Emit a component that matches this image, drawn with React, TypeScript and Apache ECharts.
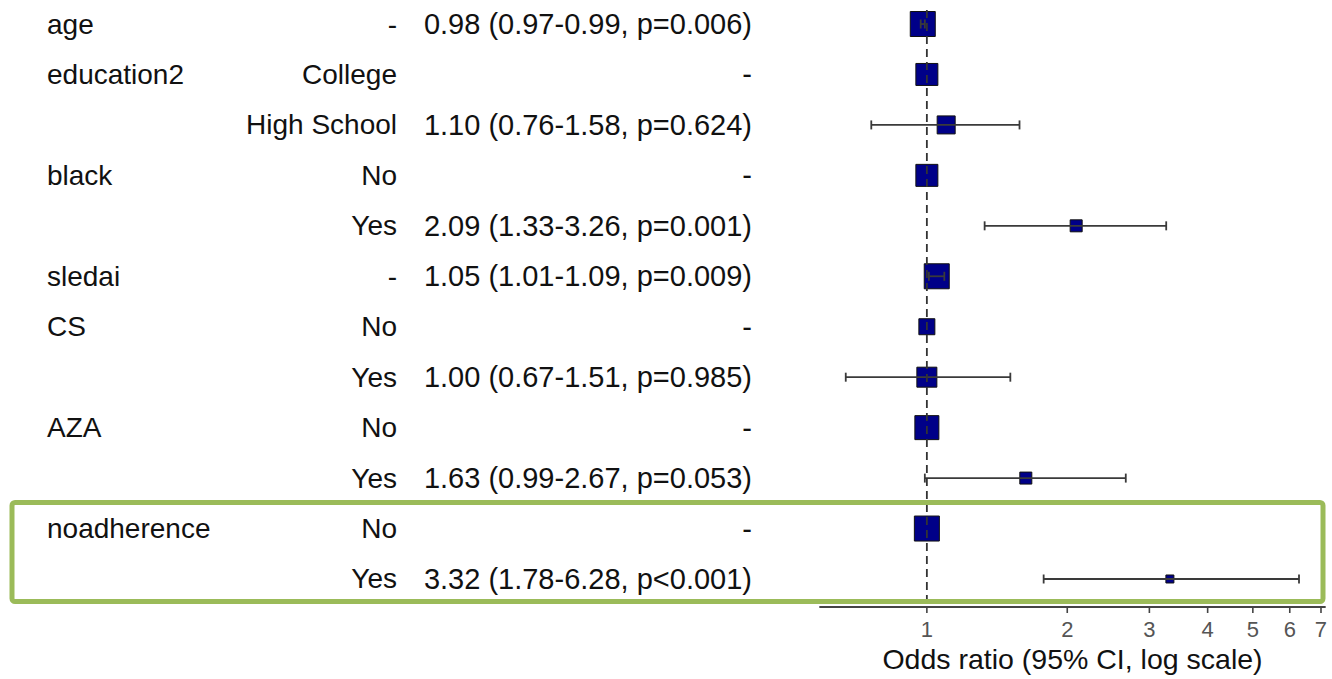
import React, { useEffect, useRef } from 'react';
import * as echarts from 'echarts';

// Multivariable logistic regression results (finalfit-style forest plot)
const variables = ['age', 'education2', '', 'black', '', 'sledai', 'CS', '', 'AZA', '', 'noadherence', ''];
const levels = ['-', 'College', 'High School', 'No', 'Yes', '-', 'No', 'Yes', 'No', 'Yes', 'No', 'Yes'];
// reference levels sit at OR = 1 and carry no interval
const oddsRatio = [0.98, 1, 1.1, 1, 2.09, 1.05, 1, 1.0, 1, 1.63, 1, 3.32];
const ciLow: (number | null)[] = [0.97, null, 0.76, null, 1.33, 1.01, null, 0.67, null, 0.99, null, 1.78];
const ciHigh: (number | null)[] = [0.99, null, 1.58, null, 3.26, 1.09, null, 1.51, null, 2.67, null, 6.28];
const pValue: (string | null)[] = ['0.006', null, '0.624', null, '0.001', '0.009', null, '0.985', null, '0.053', null, '<0.001'];
// relative weight of each estimate (drawn as box side)
const boxWeight = [25, 22, 18, 22, 12, 25, 16, 20, 24, 12, 25, 8];
const tickValues = [1, 2, 3, 4, 5, 6, 7];
const axisTitle = 'Odds ratio (95% CI, log scale)';

const FONT = "'Liberation Sans', Arial, Helvetica, sans-serif";
const Y_MIN = -0.476;
const Y_MAX = 11.555;

function valueText(i: number): string {
  const lo = ciLow[i];
  const hi = ciHigh[i];
  const p = pValue[i];
  if (lo == null || hi == null || p == null) return '-';
  const pText = p.startsWith('<') ? `p${p}` : `p=${p}`;
  return `${oddsRatio[i].toFixed(2)} (${lo.toFixed(2)}-${hi.toFixed(2)}, ${pText})`;
}

export default function App() {
  const ref = useRef<HTMLDivElement>(null);

  useEffect(() => {
    const chart = echarts.init(ref.current!, null, { renderer: 'svg' });

    const whiskerRows = oddsRatio
      .map((_, i) => i)
      .filter((i) => ciLow[i] != null && ciHigh[i] != null)
      .map((i) => [ciLow[i] as number, ciHigh[i] as number, i]);

    const option: any = {
      animation: false,
      backgroundColor: '#ffffff',
      grid: { left: 820, right: 7, top: 0, bottom: 72, outerBoundsMode: 'none', containLabel: false },
      xAxis: {
        type: 'log',
        logBase: 10,
        min: 0.59,
        max: 7.14,
        splitLine: { show: false },
        axisTick: { show: false },
        axisLabel: { show: false },
        axisLine: { show: true, onZero: false, lineStyle: { color: '#444', width: 1.8 } },
        name: axisTitle,
        nameLocation: 'middle',
        nameGap: 37,
        nameTextStyle: { fontSize: 28.5, color: '#111', fontFamily: FONT },
      },
      yAxis: {
        type: 'value',
        inverse: true,
        min: Y_MIN,
        max: Y_MAX,
        show: false,
      },
      series: [
        {
          // table columns: variable, level, OR (95% CI, p)
          type: 'custom',
          name: 'table',
          z: 1,
          data: oddsRatio.map((_, i) => [1, i]),
          renderItem: (params: any, api: any) => {
            const i = params.dataIndex;
            const y = api.coord([1, api.value(1)])[1];
            const base = { fontSize: 28, fontFamily: FONT, fill: '#111', verticalAlign: 'middle' };
            return {
              type: 'group',
              children: [
                { type: 'text', x: 47, y, style: { ...base, text: variables[i], align: 'left' } },
                { type: 'text', x: 397, y, style: { ...base, text: levels[i], align: 'right' } },
                { type: 'text', x: 752, y, style: { ...base, fontSize: 29, text: valueText(i), align: 'right' } },
              ],
            };
          },
        },
        {
          type: 'custom',
          name: 'estimate',
          z: 2,
          data: oddsRatio.map((v, i) => [v, i]),
          renderItem: (params: any, api: any) => {
            const i = params.dataIndex;
            const c = api.coord([api.value(0), api.value(1)]);
            const s = boxWeight[i];
            return {
              type: 'rect',
              shape: { x: c[0] - s / 2, y: c[1] - s / 2, width: s, height: s },
              style: { fill: '#000088', stroke: '#111', lineWidth: 1 },
            };
          },
        },
        {
          type: 'custom',
          name: 'ci',
          z: 3,
          encode: { x: [0, 1], y: 2 },
          data: whiskerRows,
          renderItem: (params: any, api: any) => {
            const a = api.coord([api.value(0), api.value(2)]);
            const b = api.coord([api.value(1), api.value(2)]);
            const ls = { stroke: '#3a3a3a', lineWidth: 1.8 };
            const cap = 4.5;
            return {
              type: 'group',
              children: [
                { type: 'line', shape: { x1: a[0], y1: a[1], x2: b[0], y2: b[1] }, style: ls },
                { type: 'line', shape: { x1: a[0], y1: a[1] - cap, x2: a[0], y2: a[1] + cap }, style: ls },
                { type: 'line', shape: { x1: b[0], y1: b[1] - cap, x2: b[0], y2: b[1] + cap }, style: ls },
              ],
            };
          },
        },
        {
          // line of no effect
          type: 'line',
          name: 'null',
          z: 4,
          symbol: 'none',
          data: [
            [1, Y_MIN + 0.2],
            [1, Y_MAX + 0.1],
          ],
          lineStyle: { color: '#333', width: 1.8, type: [8, 5] },
        },
        {
          // axis ticks and labels at 1..7
          type: 'custom',
          name: 'ticks',
          z: 5,
          data: tickValues.map((v) => [v, Y_MAX]),
          renderItem: (params: any, api: any) => {
            const c = api.coord([api.value(0), api.value(1)]);
            return {
              type: 'group',
              children: [
                { type: 'line', shape: { x1: c[0], y1: c[1], x2: c[0], y2: c[1] + 6 }, style: { stroke: '#444', lineWidth: 1.6 } },
                {
                  type: 'text',
                  x: c[0],
                  y: c[1] + 22,
                  style: {
                    text: String(tickValues[params.dataIndex]),
                    fontSize: 22,
                    fontFamily: FONT,
                    fill: '#555',
                    align: 'center',
                    verticalAlign: 'middle',
                  },
                },
              ],
            };
          },
        },
      ],
      graphic: [
        {
          type: 'rect',
          z: 10,
          shape: { x: 12, y: 502.5, width: 1311, height: 99, r: 3 },
          style: { fill: 'none', stroke: '#9bbb59', lineWidth: 5 },
        },
      ],
    };

    chart.setOption(option);
    return () => chart.dispose();
  }, []);

  return <div ref={ref} style={{ position: 'absolute', left: 0, top: 0, width: 1332, height: 679 }} />;
}
